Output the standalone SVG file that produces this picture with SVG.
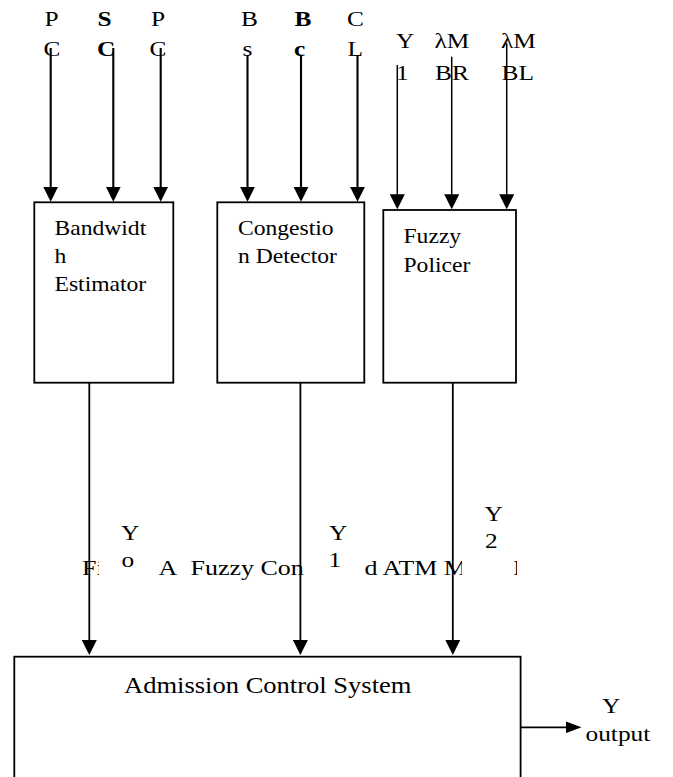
<svg xmlns="http://www.w3.org/2000/svg" width="673" height="777" viewBox="0 0 673 777">
<style>
.t{font-family:"Liberation Serif","Times New Roman",serif;fill:#000;font-size:21.5px}
.b{font-weight:bold}
.lbl{font-size:20px}
.big{font-size:22.5px}
.cap{font-size:22px}
.box{fill:#fff;stroke:#000;stroke-width:1.8}
.ln{stroke:#000;stroke-width:2.1;fill:none;marker-end:url(#ah)}
.ln2{stroke:#000;stroke-width:1.5;fill:none;marker-end:url(#ah)}
.ln3{stroke:#000;stroke-width:1.8;fill:none;marker-end:url(#ah)}
</style>
<defs>
<marker id="ah" markerUnits="userSpaceOnUse" markerWidth="15" markerHeight="15" viewBox="0 0 15 15" refX="7" refY="7.5" orient="auto">
<path d="M0,0 L15,7.5 L0,15 z" fill="#000"/>
</marker>
<marker id="ah2" markerUnits="userSpaceOnUse" markerWidth="16" markerHeight="12" viewBox="0 0 16 12" refX="8" refY="6" orient="auto">
<path d="M0,0 L16,6 L0,12 z" fill="#000"/>
</marker>
<clipPath id="capclip">
<rect x="0" y="540" width="99" height="50"/>
<rect x="157" y="540" width="149" height="50"/>
<rect x="362" y="540" width="100" height="50"/>
<rect x="514" y="540" width="3" height="50"/>
</clipPath>
</defs>
<rect width="673" height="777" fill="#fff"/>

<g id="inputs">
<text class="t" transform="matrix(1.18 0 0 1 44.5 26)">P</text>
<text class="t b" transform="matrix(1.18 0 0 1 97.5 26)">S</text>
<text class="t" transform="matrix(1.18 0 0 1 151 26)">P</text>
<text class="t" transform="matrix(1.18 0 0 1 43.5 56)">C</text>
<text class="t b" transform="matrix(1.18 0 0 1 97 56)">C</text>
<text class="t" transform="matrix(1.18 0 0 1 149.5 56)">C</text>
<text class="t" transform="matrix(1.18 0 0 1 241 26)">B</text>
<text class="t b" transform="matrix(1.18 0 0 1 294.5 26)">B</text>
<text class="t" transform="matrix(1.18 0 0 1 347 26)">C</text>
<text class="t" transform="matrix(1.18 0 0 1 242.5 56)">s</text>
<text class="t b" transform="matrix(1.18 0 0 1 294 56)">c</text>
<text class="t" transform="matrix(1.18 0 0 1 347.5 56)">L</text>
<text class="t" transform="matrix(1.18 0 0 1 396 48.3)">Y</text>
<text class="t" transform="matrix(1.18 0 0 1 434.5 48.3)">λM</text>
<text class="t" transform="matrix(1.18 0 0 1 501 48.3)">λM</text>
<text class="t" transform="matrix(1.18 0 0 1 396 80)">1</text>
<text class="t" transform="matrix(1.18 0 0 1 435 80)">BR</text>
<text class="t" transform="matrix(1.18 0 0 1 501.5 80)">BL</text>
</g>

<g id="bandwidth-estimator">
<rect class="box" x="34.3" y="202.3" width="139" height="180.4"/>
<text class="t lbl" transform="matrix(1.18 0 0 1 54.5 235)">Bandwidt</text>
<text class="t lbl" transform="matrix(1.18 0 0 1 54.5 263)">h</text>
<text class="t lbl" transform="matrix(1.18 0 0 1 54.5 291)">Estimator</text>
</g>

<g id="congestion-detector">
<rect class="box" x="217.3" y="202.3" width="147" height="180.4"/>
<text class="t lbl" transform="matrix(1.18 0 0 1 238 235)">Congestio</text>
<text class="t lbl" transform="matrix(1.18 0 0 1 238 263)">n Detector</text>
</g>

<g id="fuzzy-policer">
<rect class="box" x="383.3" y="210" width="132.7" height="172.7"/>
<text class="t lbl" transform="matrix(1.18 0 0 1 403.5 243.3)">Fuzzy</text>
<text class="t lbl" transform="matrix(1.18 0 0 1 403.5 271.7)">Policer</text>
</g>

<g id="caption" clip-path="url(#capclip)">
<text class="t cap" transform="matrix(1.18 0 0 1 82 575)">Fi</text>
<text class="t cap" transform="matrix(1.18 0 0 1 158.5 575)">A</text>
<text class="t cap" transform="matrix(1.18 0 0 1 190.5 575)">Fuzzy Con</text>
<text class="t cap" transform="matrix(1.18 0 0 1 364.5 575)">d ATM M</text>
<text class="t cap" transform="matrix(1.18 0 0 1 513.5 575)">l</text>
</g>

<g id="signal-labels">
<text class="t" transform="matrix(1.18 0 0 1 121 540)">Y</text>
<text class="t" transform="matrix(1.18 0 0 1 121.5 566.7)">o</text>
<text class="t" transform="matrix(1.18 0 0 1 329 540)">Y</text>
<text class="t" transform="matrix(1.18 0 0 1 328.5 567)">1</text>
<text class="t" transform="matrix(1.18 0 0 1 484.5 520.7)">Y</text>
<text class="t" transform="matrix(1.18 0 0 1 485 548.3)">2</text>
</g>

<g id="admission-control-system">
<rect class="box" x="14.3" y="656.7" width="506.3" height="140"/>
<text class="t big" transform="matrix(1.18 0 0 1 124 693.3)">Admission Control System</text>
</g>

<g id="output">
<text class="t" transform="matrix(1.18 0 0 1 602 713.3)">Y</text>
<text class="t" transform="matrix(1.18 0 0 1 585.5 740.7)">output</text>
</g>

<g id="connectors">
<line class="ln" x1="50.7" y1="48" x2="50.7" y2="193.7"/>
<line class="ln" x1="113.3" y1="48" x2="113.3" y2="193.7"/>
<line class="ln" x1="160.7" y1="48" x2="160.7" y2="193.7"/>
<line class="ln" x1="247.5" y1="55" x2="247.5" y2="193.7"/>
<line class="ln" x1="301" y1="55" x2="301" y2="193.7"/>
<line class="ln" x1="357.5" y1="55" x2="357.5" y2="193.7"/>
<line class="ln2" x1="397.3" y1="65" x2="397.3" y2="201.3"/>
<line class="ln2" x1="451.7" y1="56.7" x2="451.7" y2="201.3"/>
<line class="ln2" x1="506.7" y1="43.3" x2="506.7" y2="201.3"/>
<line class="ln3" x1="89.3" y1="382.7" x2="89.3" y2="647"/>
<line class="ln3" x1="300.4" y1="382.7" x2="300.4" y2="647"/>
<line class="ln3" x1="452.8" y1="382.7" x2="452.8" y2="647"/>
<line x1="520.6" y1="727.3" x2="573.5" y2="727.3" stroke="#000" stroke-width="1.8" marker-end="url(#ah2)"/>
</g>
</svg>
